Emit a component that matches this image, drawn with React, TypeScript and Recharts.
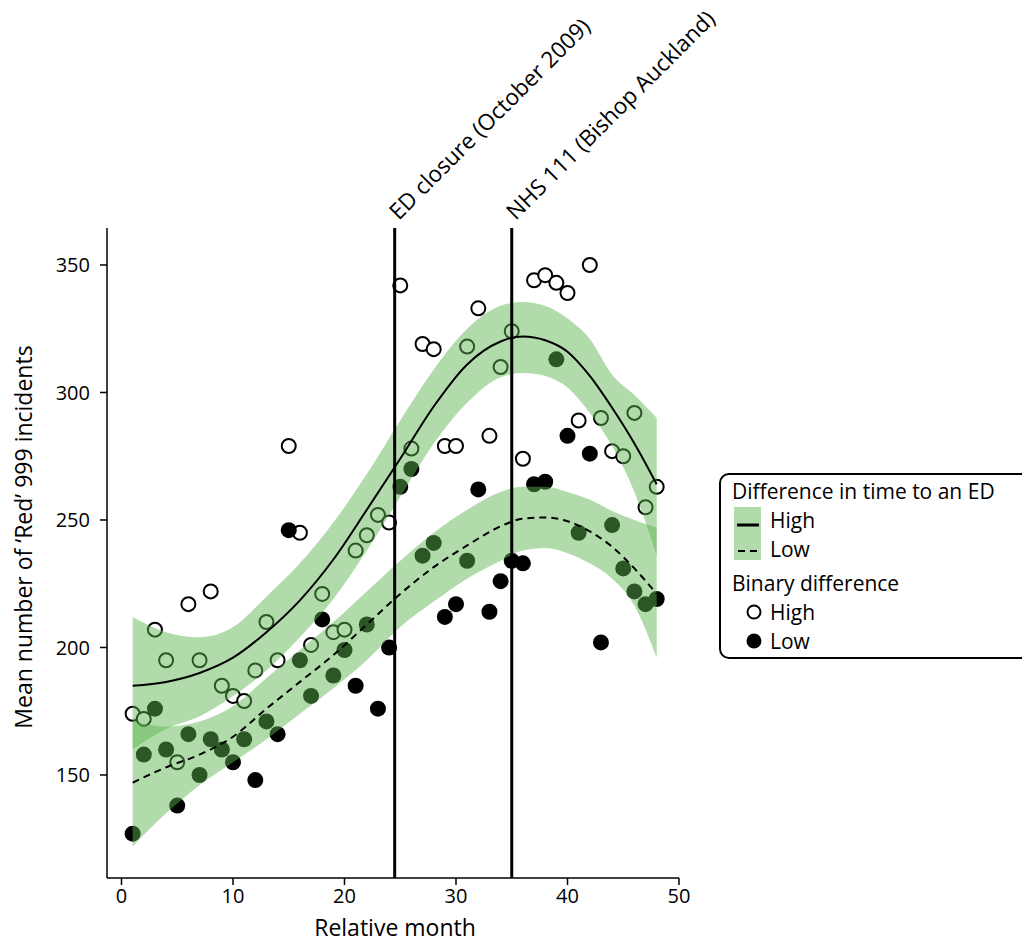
import React from "react";
import {
  ComposedChart,
  XAxis,
  YAxis,
  Scatter,
  Area,
  Line,
  ReferenceLine,
} from "recharts";

// observed monthly means
const months = [
  1, 2, 3, 4, 5, 6, 7, 8, 9, 10, 11, 12, 13, 14, 15, 16, 17, 18, 19, 20, 21, 22, 23, 24,
  25, 26, 27, 28, 29, 30, 31, 32, 33, 34, 35, 36, 37, 38, 39, 40, 41, 42, 43, 44, 45, 46, 47, 48,
];
const highObserved = [
  174, 172, 207, 195, 155, 217, 195, 222, 185, 181, 179, 191, 210, 195, 279, 245, 201, 221, 206, 207,
  238, 244, 252, 249, 342, 278, 319, 317, 279, 279, 318, 333, 283, 310, 324, 274, 344, 346, 343, 339,
  289, 350, 290, 277, 275, 292, 255, 263,
];
const lowObserved = [
  127, 158, 176, 160, 138, 166, 150, 164, 160, 155, 164, 148, 171, 166, 246, 195, 181, 211, 189, 199,
  185, 209, 176, 200, 263, 270, 236, 241, 212, 217, 234, 262, 214, 226, 234, 233, 264, 265, 313, 283,
  245, 276, 202, 248, 231, 222, 217, 219,
];

// smoothed fits and confidence bands, read at these months
const fitMonths = [1, 4, 7, 10, 13, 16, 19, 22, 25, 28, 31, 34, 36, 38, 40, 42, 44, 46, 48];
const highFit = [185, 186.5, 190, 196, 206, 218.5, 234.5, 254, 274, 294.5, 311, 320, 322, 320.5, 316, 306.5, 294, 280, 264];
const highUpper = [212, 206, 204, 208, 220, 233, 249, 268, 289, 309, 325, 334, 335.5, 334, 329, 321, 307, 299, 290];
const highLower = [160, 168, 173, 181, 191, 204, 219, 238, 259, 280, 296, 306, 307.6, 306.5, 302, 292, 279, 261, 236];
const lowFit = [147, 153, 158, 165, 176, 186.5, 197, 209, 221, 231.5, 240, 247.5, 250.5, 251, 249.5, 245.5, 239.5, 231, 221];
const lowUpper = [171, 169, 171, 177, 188, 199, 210, 222, 234, 245, 254, 261, 263, 263, 261, 258, 253.5, 250, 247];
const lowLower = [122, 135, 146, 155, 164, 174, 184, 195, 208, 218, 227, 234, 238, 239, 237, 233, 227, 216.5, 196];

const xTicks = [0, 10, 20, 30, 40, 50];
const yTicks = [150, 200, 250, 300, 350];

const events = [
  { month: 24.5, label: "ED closure (October 2009)" },
  { month: 35, label: "NHS 111 (Bishop Auckland)" },
];

const BAND = "#5cb450";
const BAND_OPACITY = 0.48;
const FONT = '"Open Sans", "Noto Sans", sans-serif';

const highPoints = months.map((m, i) => ({ month: m, value: highObserved[i] }));
const lowPoints = months.map((m, i) => ({ month: m, value: lowObserved[i] }));
const fitTable = fitMonths.map((m, i) => ({
  month: m,
  highFit: highFit[i],
  highBand: [highLower[i], highUpper[i]],
  lowFit: lowFit[i],
  lowBand: [lowLower[i], lowUpper[i]],
}));

const OpenDot = (props: any) => (
  <circle cx={props.cx} cy={props.cy} r={7} fill="#fff" stroke="#000" strokeWidth={2} />
);
const FilledDot = (props: any) => <circle cx={props.cx} cy={props.cy} r={8} fill="#000" />;

const eventLabel = (text: string) => (props: any) => {
  const { viewBox } = props;
  const x = viewBox.x + 4;
  const y = viewBox.y - 7;
  return (
    <text x={x} y={y} transform={`rotate(-45 ${x} ${y})`} fontSize={22.5} fill="#000" fontFamily={FONT}>
      {text}
    </text>
  );
};

function Legend() {
  const txt: React.CSSProperties = {
    position: "absolute",
    fontSize: 21,
    lineHeight: "29px",
    height: 29,
    whiteSpace: "nowrap",
  };
  return (
    <div
      style={{
        position: "absolute",
        left: 719,
        top: 473,
        width: 330,
        height: 182,
        border: "2px solid #000",
        borderRadius: 10,
        background: "#fff",
        fontFamily: FONT,
        color: "#000",
      }}
    >
      <div style={{ ...txt, left: 11, top: 1.5 }}>Difference in time to an ED</div>
      <svg style={{ position: "absolute", left: 0, top: 0 }} width={60} height={182}>
        <rect x={13} y={32} width={27} height={53} fill={BAND} fillOpacity={BAND_OPACITY} />
        <line x1={16} x2={38} y1={50} y2={50} stroke="#000" strokeWidth={3} />
        <line x1={17} x2={38} y1={76} y2={76} stroke="#000" strokeWidth={2} strokeDasharray="7 5" />
        <circle cx={33} cy={137} r={6.5} fill="#fff" stroke="#000" strokeWidth={2} />
        <circle cx={33} cy={166} r={7.5} fill="#000" />
      </svg>
      <div style={{ ...txt, left: 49, top: 30.5 }}>High</div>
      <div style={{ ...txt, left: 49, top: 59.5 }}>Low</div>
      <div style={{ ...txt, left: 11, top: 93.5 }}>Binary difference</div>
      <div style={{ ...txt, left: 49, top: 122.5 }}>High</div>
      <div style={{ ...txt, left: 49, top: 151.5 }}>Low</div>
    </div>
  );
}

export default function App() {
  return (
    <div
      style={{
        position: "absolute",
        left: 0,
        top: 0,
        width: 1022,
        height: 944,
        background: "#fff",
        fontFamily: FONT,
      }}
    >
      <ComposedChart
        width={1022}
        height={944}
        data={fitTable}
        margin={{ top: 228, right: 343, bottom: 26, left: 47 }}
      >
        <XAxis
          type="number"
          dataKey="month"
          domain={[-1.3, 50]}
          allowDataOverflow
          ticks={xTicks}
          height={40}
          tickSize={7}
          tickMargin={4}
          stroke="#000"
          strokeWidth={1.5}
          tick={{ fill: "#000", fontSize: 20 }}
          label={{
            content: () => (
              <text x={395} y={936} textAnchor="middle" fontSize={23} fill="#000" fontFamily={FONT}>
                Relative month
              </text>
            ),
          }}
        />
        <YAxis
          type="number"
          domain={[109.6, 364.5]}
          allowDataOverflow
          ticks={yTicks}
          width={60}
          tickSize={7}
          tickMargin={10}
          stroke="#000"
          strokeWidth={1.5}
          tick={{ fill: "#000", fontSize: 20 }}
          label={{
            content: () => (
              <text
                x={32}
                y={537}
                transform="rotate(-90 32 537)"
                textAnchor="middle"
                fontSize={23}
                fill="#000"
                fontFamily={FONT}
              >
                Mean number of ‘Red’ 999 incidents
              </text>
            ),
          }}
        />
        <Scatter data={highPoints} dataKey="value" shape={OpenDot} isAnimationActive={false} zIndex={50} />
        <Scatter data={lowPoints} dataKey="value" shape={FilledDot} isAnimationActive={false} zIndex={50} />
        <Area
          type="monotone"
          dataKey="highBand"
          stroke="none"
          fill={BAND}
          fillOpacity={BAND_OPACITY}
          isAnimationActive={false}
          zIndex={100}
        />
        <Area
          type="monotone"
          dataKey="lowBand"
          stroke="none"
          fill={BAND}
          fillOpacity={BAND_OPACITY}
          isAnimationActive={false}
          zIndex={100}
        />
        <Line
          type="monotone"
          dataKey="highFit"
          stroke="#000"
          strokeWidth={2}
          dot={false}
          isAnimationActive={false}
          zIndex={400}
        />
        <Line
          type="monotone"
          dataKey="lowFit"
          stroke="#000"
          strokeWidth={2}
          strokeDasharray="7 5"
          dot={false}
          isAnimationActive={false}
          zIndex={400}
        />
        {events.map((e) => (
          <ReferenceLine
            key={e.label}
            x={e.month}
            stroke="#000"
            strokeWidth={3}
            zIndex={500}
            label={{ content: eventLabel(e.label) }}
          />
        ))}
      </ComposedChart>
      <Legend />
    </div>
  );
}
